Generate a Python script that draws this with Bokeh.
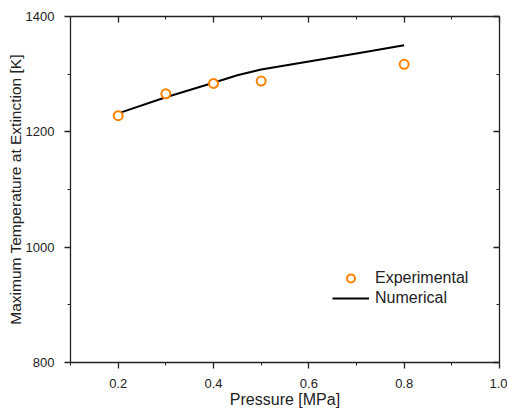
from bokeh.plotting import figure
from bokeh.models import LinearAxis, FixedTicker, Range1d, Legend, LegendItem, NumeralTickFormatter
from bokeh.embed import file_html
from bokeh.resources import INLINE

pressure_exp = [0.2, 0.3, 0.4, 0.5, 0.8]
temp_exp = [1228, 1266, 1284, 1288, 1317]

pressure_num = [0.2, 0.3, 0.4, 0.45, 0.5, 0.6, 0.7, 0.8]
temp_num = [1232, 1260, 1285, 1298, 1308, 1322, 1336, 1350]

x_major = [0.2, 0.4, 0.6, 0.8, 1.0]
x_minor = [0.1, 0.3, 0.5, 0.7, 0.9]
y_major = [800, 1000, 1200, 1400]
y_minor = [900, 1100, 1300]

FONT = "Liberation Sans"

p = figure(width=507, height=410, output_backend="svg", toolbar_location=None,
           x_range=Range1d(0.1, 1.0), y_range=Range1d(800, 1400),
           min_border_left=70, min_border_right=8, min_border_top=16, min_border_bottom=48,
           x_axis_label="Pressure [MPa]", y_axis_label="Maximum Temperature at Extinction [K]")
p.grid.visible = False
p.outline_line_color = None
p.background_fill_color = "white"
p.border_fill_color = "white"

xt = FixedTicker(ticks=x_major, minor_ticks=x_minor)
yt = FixedTicker(ticks=y_major, minor_ticks=y_minor)

def style(ax, ticker, side_in=False):
    ax.ticker = ticker
    ax.axis_line_color = "#222222"
    ax.axis_line_width = 1.3
    ax.major_tick_line_color = "#222222"
    ax.minor_tick_line_color = "#222222"
    ax.major_tick_line_width = 1.3
    ax.minor_tick_line_width = 1.0
    if side_in:
        ax.major_tick_in = 6
        ax.major_tick_out = 0
        ax.minor_tick_in = 3
        ax.minor_tick_out = 0
        ax.major_label_text_font_size = "0px"
        ax.major_label_text_alpha = 0
    else:
        ax.major_tick_in = 0
        ax.major_tick_out = 6
        ax.minor_tick_in = 0
        ax.minor_tick_out = 3
        ax.major_label_text_font = FONT
        ax.major_label_text_font_size = "13px"
        ax.major_label_text_color = "#222222"
        ax.axis_label_text_font = FONT
        ax.axis_label_text_font_size = "16px"
        ax.axis_label_text_font_style = "normal"
        ax.axis_label_text_color = "#222222"

style(p.xaxis[0], xt)
style(p.yaxis[0], yt)
p.yaxis[0].axis_label_text_font_size = "15.5px"
p.xaxis[0].formatter = NumeralTickFormatter(format="0.0")
p.xaxis[0].major_label_standoff = 10
p.xaxis[0].axis_label_standoff = 0
p.yaxis[0].major_label_standoff = 10
p.yaxis[0].axis_label_standoff = -1

top = LinearAxis()
style(top, xt, side_in=True)
right = LinearAxis()
style(right, yt, side_in=True)
p.add_layout(top, "above")
p.add_layout(right, "right")

r_num = p.line(pressure_num, temp_num, line_color="black", line_width=2)
r_exp = p.scatter(pressure_exp, temp_exp, marker="circle", size=9,
                  line_color="#FF8000", line_width=2, fill_color="white")

legend = Legend(items=[LegendItem(label="Experimental", renderers=[r_exp]),
                       LegendItem(label="Numerical", renderers=[r_num])],
                location=(262, 54), border_line_color=None, background_fill_alpha=0,
                padding=0, margin=0, spacing=0, glyph_width=37, glyph_height=20,
                label_height=20, label_standoff=6,
                label_text_font=FONT, label_text_font_size="16px", label_text_color="#222222")
p.add_layout(legend, "center")

open("out.html", "w").write(file_html(p, INLINE))
